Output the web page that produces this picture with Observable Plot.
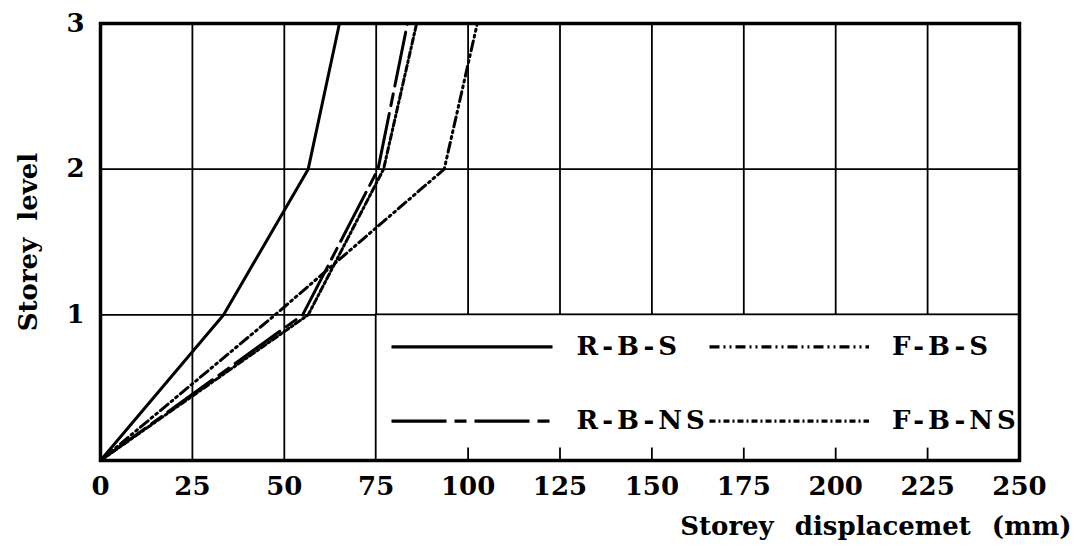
<!DOCTYPE html>
<html><head><meta charset="utf-8">
<script src="https://cdn.jsdelivr.net/npm/d3@7"></script>
<script src="https://cdn.jsdelivr.net/npm/@observablehq/plot@0.6"></script>
<style>
body{margin:0;background:#fff}
#chart svg{display:block}
</style>
</head><body><div id="chart"></div>
<script>
// ---- data ----
const storeyLevels = [0, 1, 2, 3];
const rbs  = [0, 33.5, 56.5, 65];
const rbns = [0, 55, 75.5, 83.5];
const fbs  = [0, 47.5, 93.5, 102.5];
const fbns = [0, 56.5, 77, 86];
const seriesNames = ["R-B-S", "R-B-NS", "F-B-S", "F-B-NS"];
const xTicks = [0, 25, 50, 75, 100, 125, 150, 175, 200, 225, 250];
const yTicks = [1, 2, 3];
const xLabel = "Storey displacemet (mm)";
const yLabel = "Storey level";

// ---- build ----
const seriesValues = [rbs, rbns, fbs, fbns];
const dash = {"R-B-S": null, "R-B-NS": "55,8,12,8", "F-B-S": "10,4,2,4,2,4", "F-B-NS": "6,3,2,3"};
const rows = seriesNames.flatMap((s, i) => seriesValues[i].map((v, j) => ({series: s, x: v, y: storeyLevels[j]})));

const font = "DejaVu Serif";
const W = 1077, H = 546;
const fs = 26;

// legend layout (data units of the plot)
const box = {x1: xTicks[3], x2: xTicks[xTicks.length - 1], y1: 0, y2: yTicks[0]};
const legendRows = [0.78, 0.27];
const legendItems = [
  {series: "R-B-S",  row: 0, col: 0},
  {series: "F-B-S",  row: 0, col: 1},
  {series: "R-B-NS", row: 1, col: 0},
  {series: "F-B-NS", row: 1, col: 1}
];
const colLine = [[79.3, 123.1], [165.8, 209.2]];
const colText = [129.5, 215.3];

const marks = [
  Plot.gridX(xTicks, {stroke: "#000", strokeOpacity: 1, strokeWidth: 1.8}),
  Plot.gridY(yTicks, {stroke: "#000", strokeOpacity: 1, strokeWidth: 1.8}),
  Plot.rect([box], {x1: "x1", x2: "x2", y1: "y1", y2: "y2", fill: "#fff", stroke: "#000", strokeWidth: 1.8}),
  Plot.ruleX(xTicks.filter(t => t > box.x1 && t < box.x2), {y1: 0, y2: 0.085, stroke: "#000", strokeWidth: 1.8}),
];
for (const s of seriesNames) {
  marks.push(Plot.line(rows.filter(d => d.series === s), {x: "x", y: "y", stroke: "#000", strokeWidth: 3, strokeDasharray: dash[s], strokeLinejoin: "round"}));
}
for (const it of legendItems) {
  const y = legendRows[it.row];
  marks.push(Plot.ruleY([y], {x1: colLine[it.col][0], x2: colLine[it.col][1], stroke: "#000", strokeWidth: 3.2, strokeDasharray: dash[it.series]}));
  marks.push(Plot.text([it.series], {x: colText[it.col], y, text: d => d, textAnchor: "start", lineAnchor: "middle", fontSize: fs, fontWeight: "bold", fill: "#000"}));
}
marks.push(
  Plot.frame({stroke: "#000", strokeWidth: 3.5}),
  Plot.axisX(xTicks, {tickSize: 0, tickPadding: 16, fontSize: fs, fontWeight: "bold", label: null, tickFormat: d3.format("d")}),
  Plot.axisY(yTicks, {tickSize: 0, tickPadding: 16, fontSize: fs, fontWeight: "bold", label: null, tickFormat: d3.format("d")}),
  Plot.text([xLabel], {frameAnchor: "bottom-right", dx: 52, dy: 66, text: d => d, textAnchor: "end", lineAnchor: "middle", fontSize: fs, fontWeight: "bold", fill: "#000"}),
  Plot.text([yLabel], {frameAnchor: "left", dx: -72, rotate: -90, text: d => d, textAnchor: "middle", lineAnchor: "middle", fontSize: fs, fontWeight: "bold", fill: "#000"})
);

const chart = Plot.plot({
  width: W, height: H,
  marginLeft: 100, marginRight: 58, marginTop: 23, marginBottom: 86,
  style: {fontFamily: font, background: "#fff", color: "#000"},
  x: {domain: [0, 250]},
  y: {domain: [0, 3]},
  marks
});
// typographic spacing to match the original lettering
chart.querySelectorAll("text").forEach(t => {
  const s = t.textContent;
  if (seriesNames.includes(s)) t.setAttribute("letter-spacing", "4");
  if (s === xLabel) t.setAttribute("word-spacing", "12");
  if (s === yLabel) t.setAttribute("word-spacing", "8");
});
document.getElementById("chart").appendChild(chart);
</script>
</body></html>
